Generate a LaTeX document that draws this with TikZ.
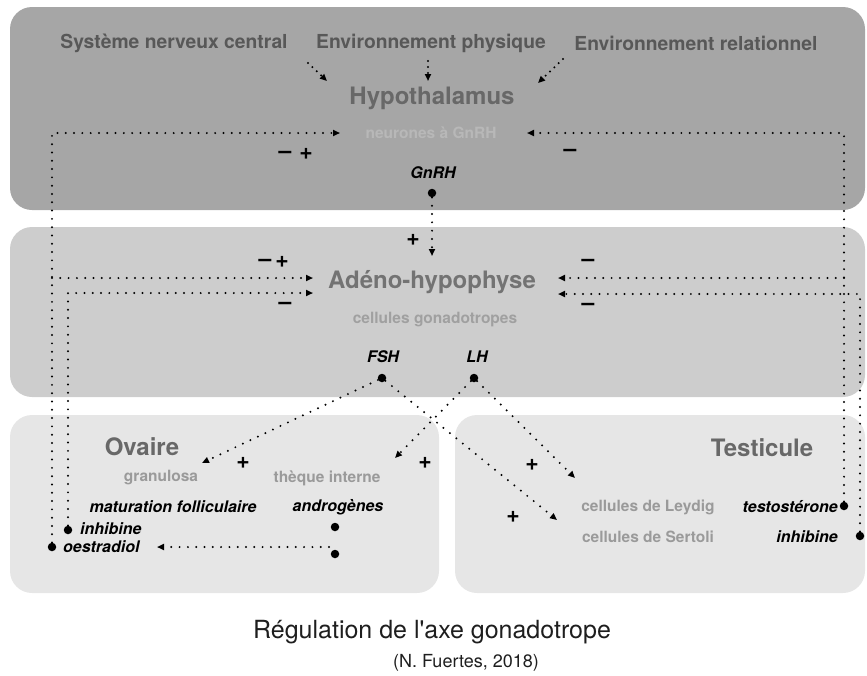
\documentclass[tikz,border=0pt]{standalone}
\usepackage{fontspec}
\setmainfont{TeX Gyre Heros}
\usetikzlibrary{arrows.meta}
\definecolor{cTop}{HTML}{A6A6A6}
\definecolor{cMid}{HTML}{CDCDCD}
\definecolor{cBot}{HTML}{E6E6E6}
\definecolor{cSrc}{HTML}{585858}
\definecolor{cOrg}{HTML}{686868}
\definecolor{cNeur}{HTML}{B8B8B8}
\definecolor{cCell}{HTML}{A0A0A0}
\definecolor{cCell2}{HTML}{9A9A9A}
\definecolor{cCap}{HTML}{1E1E1E}
\newcommand\myfs[1]{\fontsize{#1}{#1}\selectfont}
\begin{document}
\begin{tikzpicture}[x=1pt,y=-1pt,
  panel/.style={rounded corners=22pt, draw=none},
  src/.style={inner sep=0pt, font=\myfs{19.3}\bfseries, text=cSrc},
  organ/.style={inner sep=0pt, font=\myfs{24}\bfseries, text=cOrg},
  cellt/.style={inner sep=0pt, font=\myfs{15.5}\bfseries, text=cCell2},
  horm/.style={inner sep=0pt, font=\myfs{16}\bfseries\itshape, text=black},
  sign/.style={inner sep=0pt, font=\myfs{23}\bfseries, text=black},
  hdot/.style={circle, fill=black, inner sep=0pt, minimum size=8.5pt},
  dotl/.style={line width=2.2pt, dash pattern=on 0pt off 8.3pt, line cap=round, black},
  tipd/.style={-{Triangle[length=7pt,width=6pt]}}
]
\useasboundingbox (0,0) rectangle (867,675);
% panels
\fill[cTop, panel] (10,7) rectangle (865,210);
\fill[cMid, panel] (10,227) rectangle (865,397);
\fill[cBot, panel] (10,415) rectangle (439,593);
\fill[cBot, panel] (455,415) rectangle (865,593);

% top sources
\node[src] (snc) at (174,43) {Système nerveux central};
\node[src] (envp) at (431,43) {Environnement physique};
\node[src] (envr) at (696,43) {Environnement relationnel};
\coordinate (s1a) at (308,63); \coordinate (s1b) at (327,81);
\coordinate (s2a) at (428,61); \coordinate (s2b) at (428,81);
\coordinate (s3a) at (563,59); \coordinate (s3b) at (538,83);
\draw[dotl,tipd,dash pattern=on 0pt off 6pt] (s1a) -- (s1b);
\draw[dotl,tipd,dash pattern=on 0pt off 6pt] (s2a) -- (s2b);
\draw[dotl,tipd,dash pattern=on 0pt off 6pt] (s3a) -- (s3b);

% hypothalamus
\node[organ] (hypo) at (432,98) {Hypothalamus};
\node[inner sep=0pt, font=\myfs{15.5}\bfseries, text=cNeur] (neur) at (431,133) {neurones à GnRH};
\node[horm] (gnrh) at (433,173) {GnRH};
\node[hdot] (gnrhdot) at (432,193) {};

% adeno-hypophyse
\node[organ, text=black!55] (adeno) at (432,282) {Adéno-hypophyse};
\node[inner sep=0pt, font=\myfs{15.5}\bfseries, text=cCell] (cellg) at (435,320) {cellules gonadotropes};
\node[horm] (fsh) at (383,357) {FSH};
\node[horm] (lh) at (477,357) {LH};
\node[hdot] (fshdot) at (382,378) {};
\node[hdot] (lhdot) at (474,378) {};

% ovaire
\node[organ] (ovaire) at (142,447) {Ovaire};
\node[cellt] (gran) at (161,478) {granulosa};
\node[cellt] (theq) at (327,478) {thèque interne};
\node[horm] (matur) at (173,507) {maturation folliculaire};
\node[horm] (andro) at (338,507) {androgènes};
\node[hdot] (ad1) at (335,527) {};
\node[hdot] (ad2) at (335,554) {};
\node[hdot] (inhLdot) at (68,530) {};
\node[horm, anchor=west] (inhL) at (80,529) {inhibine};
\node[hdot] (oedot) at (52,547) {};
\node[horm, anchor=west] (oestr) at (63,547) {oestradiol};

% testicule
\node[organ] (testi) at (762,448) {Testicule};
\node[cellt] (leydig) at (648,507) {cellules de Leydig};
\node[cellt] (sertoli) at (648,537) {cellules de Sertoli};
\node[horm, anchor=east] (testo) at (838,507) {testostérone};
\node[hdot] (testodot) at (844,506) {};
\node[horm, anchor=east] (inhR) at (838,537) {inhibine};
\node[hdot] (inhRdot) at (860,536) {};

% arrow end coordinates
\coordinate (hypL) at (340,133);
\coordinate (hypR) at (527,133);
\coordinate (adL1) at (313,278);
\coordinate (adL2) at (313,293);
\coordinate (adR1) at (558,278);
\coordinate (adR2) at (558,294);
\coordinate (adT) at (432,256);
\coordinate (granT) at (202,463);
\coordinate (theqT) at (395,458);
\coordinate (leyT) at (575,478);
\coordinate (serT) at (557,520);
\coordinate (oeT) at (157,547);

% feedback connectors
\draw[dotl,tipd] (oedot) |- (hypL);
\draw[dotl,tipd] (oedot |- adL1) -- (adL1);
\draw[dotl,tipd] (inhLdot) |- (adL2);
\draw[dotl,tipd] (testodot) |- (hypR);
\draw[dotl,tipd] (testodot |- adR1) -- (adR1);
\draw[dotl,tipd] (inhRdot) |- (adR2);
\draw[dotl,tipd] (gnrhdot) -- (adT);
\draw[dotl,tipd] (fshdot) -- (granT);
\draw[dotl,tipd] (fshdot) -- (serT);
\draw[dotl,tipd] (lhdot) -- (theqT);
\draw[dotl,tipd] (lhdot) -- (leyT);
\draw[dotl,tipd] ([xshift=-6pt]ad2 |- oeT) -- (oeT);

% signs
\node[sign] (s1) at (285,155) {–};
\node[sign] (s2) at (306,154) {+};
\node[sign] (s3) at (570,153) {–};
\node[sign] (s4) at (413,240) {+};
\node[sign] (s5) at (265,263) {–};
\node[sign] (s6) at (282,262) {+};
\node[sign] (s7) at (285,306) {–};
\node[sign] (s8) at (588,263) {–};
\node[sign] (s9) at (588,307) {–};
\node[sign] (s10) at (243,463) {+};
\node[sign] (s11) at (425,463) {+};
\node[sign] (s12) at (532,465) {+};
\node[sign] (s13) at (513,517) {+};

% caption
\node[inner sep=0pt, font=\myfs{25}, text=cCap] (cap) at (432,632) {Régulation de l\textquotesingle axe gonadotrope};
\node[inner sep=0pt, font=\myfs{18}, text=cCap] (auth) at (466,663) {(N. Fuertes, 2018)};
\end{tikzpicture}
\end{document}
